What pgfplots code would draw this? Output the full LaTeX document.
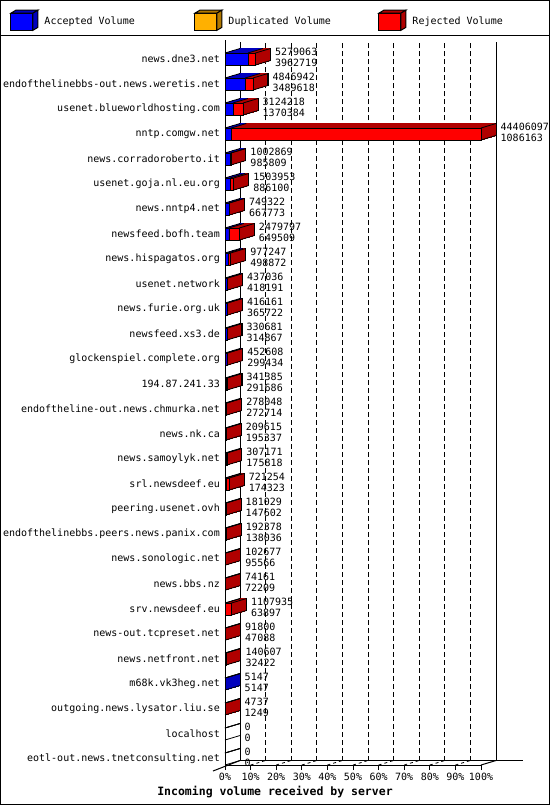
\documentclass[border=0pt]{standalone}
\usepackage{fontspec}
\setmainfont{DejaVu Sans Mono}
\setmonofont{DejaVu Sans Mono}
\usepackage{pgfplots}
\usepackage{pgfplotstable}
\pgfplotsset{compat=1.18}

\definecolor{accF}{RGB}{0,0,255}
\definecolor{accB}{RGB}{0,0,190}
\definecolor{dupF}{RGB}{255,176,0}
\definecolor{dupB}{RGB}{176,120,0}
\definecolor{rejF}{RGB}{255,0,0}
\definecolor{rejB}{RGB}{176,0,0}

% total volume, accepted volume (rejected = total - accepted)
\pgfplotstableread{
row tot acc
0 5279063 3962719
1 4846942 3489618
2 3124218 1370384
3 44406097 1086163
4 1002869 985809
5 1503953 886100
6 749322 667773
7 2479797 649509
8 977247 498872
9 437036 418191
10 416161 365722
11 330681 314867
12 452608 299434
13 341385 291686
14 278048 272714
15 209615 195337
16 307171 175818
17 721254 174323
18 181029 147602
19 192378 138036
20 102677 95566
21 74161 72209
22 1107935 63897
23 91800 47088
24 140607 32422
25 5147 5147
26 4737 1249
27 0 0
28 0 0
}\servers

\pgfplotsset{
  geom/.style={scale only axis, width=256pt, height=725pt,
    xmin=0, xmax=100, ymin=-0.76, ymax=28.24, y dir=reverse,
    clip=false, anchor=south west},
  layer/.style={geom, hide axis, xbar stacked, bar width=12pt},
}
% percent of the largest total
\def\pct{444060.97}
% blue part of a depth slice: leaves at least 1px of red on the right side
\def\bx{(\thisrow{acc}<\thisrow{tot} ? max(0,min(\thisrow{acc},\thisrow{tot}-177624))/\pct : \thisrow{acc}/\pct)}

\begin{document}
\fontsize{10}{12}\selectfont
\begin{tikzpicture}[line width=1pt, font=\fontsize{10}{12}\selectfont]

% back wall and floor
\begin{axis}[scale only axis, width=256pt, height=718.5pt, xmin=0, xmax=100, ymin=0, ymax=1,
  at={(240pt,-760.5pt)}, anchor=south west, clip=false,
  axis x line*=bottom, axis y line=none, ytick=\empty,
  x axis line style={line width=1pt, shorten >=-27pt},
  xtick={10,20,...,90}, xticklabels={}, major tick length=0pt,
  xmajorgrids, grid style={black, line width=0.8pt},
  major grid style={dash pattern=on 5pt off 3pt},
  extra x ticks={0,100}, extra x tick labels={},
  extra x tick style={grid=major, major grid style={solid, line width=1pt}}]
\addplot[draw=none] coordinates {(0,0)};
\end{axis}

% rear face of the bars
\begin{axis}[layer, at={(240pt,-760.5pt)}]
\addplot[fill=accB, draw=black, line width=1.2pt, skip coords between index={27}{29}]
  table[x expr=\bx, y=row] \servers;
\addplot[fill=rejB, draw=black, line width=1.2pt, skip coords between index={27}{29}]
  table[x expr=\thisrow{tot}/\pct-\bx, y=row] \servers;
\end{axis}

% depth of the bars, one slice per pixel
\foreach \k in {14,13,...,1} {
\begin{axis}[layer, at={({(225+\k)*1pt},{(-765+0.3*\k)*1pt})}]
\addplot[fill=accB, draw=accB, line width=1pt, skip coords between index={27}{29}]
  table[x expr=\bx, y=row] \servers;
\addplot[fill=rejB, draw=rejB, line width=1pt, skip coords between index={27}{29}]
  table[x expr=\thisrow{tot}/\pct-\bx, y=row] \servers;
\end{axis}
}

% front face, axes and labels
\begin{axis}[geom, at={(225pt,-765pt)}, xbar stacked, bar width=12pt,
  axis x line*=bottom, axis y line*=left,
  axis line style={line width=1pt},
  xtick={0,10,...,100},
  xticklabels={0\%,10\%,20\%,30\%,40\%,50\%,60\%,70\%,80\%,90\%,100\%},
  tick align=outside, major tick length=5pt,
  xtick style={black, line width=0.8pt},
  ytick={0,...,28}, ytick style={draw=none},
  yticklabels={news.dne3.net,endofthelinebbs-out.news.weretis.net,usenet.blueworldhosting.com,
    nntp.comgw.net,news.corradoroberto.it,usenet.goja.nl.eu.org,news.nntp4.net,
    newsfeed.bofh.team,news.hispagatos.org,usenet.network,news.furie.org.uk,
    newsfeed.xs3.de,glockenspiel.complete.org,194.87.241.33,
    endoftheline-out.news.chmurka.net,news.nk.ca,news.samoylyk.net,srl.newsdeef.eu,
    peering.usenet.ovh,endofthelinebbs.peers.news.panix.com,news.sonologic.net,
    news.bbs.nz,srv.newsdeef.eu,news-out.tcpreset.net,news.netfront.net,
    m68k.vk3heg.net,outgoing.news.lysator.liu.se,localhost,
    eotl-out.news.tnetconsulting.net},
  yticklabel style={inner sep=0pt},
  xticklabel style={inner sep=0pt, yshift=-3pt},
  xlabel={Incoming volume received by server},
  xlabel style={at={(axis description cs:0.1953,-0.0372)}, anchor=center,
    font=\fontsize{11.5}{13}\selectfont\bfseries}]
\addplot[fill=accF, draw=black] table[x expr=\thisrow{acc}/\pct, y=row] \servers;
\addplot[fill=rejF, draw=black] table[x expr=(\thisrow{tot}-\thisrow{acc})/\pct, y=row] \servers;
\end{axis}

% legend, edges, floor lines and values
\begin{axis}[geom, hide axis, at={(225pt,-765pt)},
  legend style={draw=none, fill=none, inner sep=0pt, outer sep=0pt,
    at={(axis description cs:-0.8379,1.0273)}, anchor=west,
    nodes={inner sep=0pt},
    /tikz/every odd column/.append style={column sep=6pt},
    /tikz/every even column/.append style={column sep=0pt}},
  legend columns=3, legend cell align=left]
\addlegendimage{legend image code/.code={
  \draw[fill=accF, line width=1pt] (0pt,-8.6pt) rectangle (22pt,8.6pt);
  \draw[fill=accB, line width=1pt] (0pt,8.6pt) -- (5pt,11.6pt) -- (27pt,11.6pt) -- (22pt,8.6pt) -- cycle;
  \draw[fill=accB, line width=1pt] (22pt,8.6pt) -- (27pt,11.6pt) -- (27pt,-5.6pt) -- (22pt,-8.6pt) -- cycle;}}
\addlegendentry{\makebox[150pt][l]{Accepted Volume}}
\addlegendimage{legend image code/.code={
  \draw[fill=dupF, line width=1pt] (0pt,-8.6pt) rectangle (22pt,8.6pt);
  \draw[fill=dupB, line width=1pt] (0pt,8.6pt) -- (5pt,11.6pt) -- (27pt,11.6pt) -- (22pt,8.6pt) -- cycle;
  \draw[fill=dupB, line width=1pt] (22pt,8.6pt) -- (27pt,11.6pt) -- (27pt,-5.6pt) -- (22pt,-8.6pt) -- cycle;}}
\addlegendentry{\makebox[150pt][l]{Duplicated Volume}}
\addlegendimage{legend image code/.code={
  \draw[fill=rejF, line width=1pt] (0pt,-8.6pt) rectangle (22pt,8.6pt);
  \draw[fill=rejB, line width=1pt] (0pt,8.6pt) -- (5pt,11.6pt) -- (27pt,11.6pt) -- (22pt,8.6pt) -- cycle;
  \draw[fill=rejB, line width=1pt] (22pt,8.6pt) -- (27pt,11.6pt) -- (27pt,-5.6pt) -- (22pt,-8.6pt) -- cycle;}}
\addlegendentry{\makebox[150pt][l]{Rejected Volume}}
\addplot[forget plot, quiver={u=5.859, v=-0.18}, black, line width=0.8pt]
  table[x expr=0, y expr=\thisrow{row}-0.24] \servers;
\addplot[forget plot, quiver={u=5.859, v=-0.18}, black, line width=0.8pt]
  table[x expr=\thisrow{tot}/\pct, y expr=\thisrow{row}-0.24] \servers;
\addplot[forget plot, quiver={u=5.859, v=-0.18}, black, line width=0.8pt]
  table[x expr=\thisrow{tot}/\pct, y expr=\thisrow{row}+0.24] \servers;
\addplot[forget plot, quiver={u=5.859, v=-0.18}, black, line width=0.8pt]
  table[x expr=\thisrow{acc}/\pct, y expr=\thisrow{row}-0.24] \servers;
\addplot[forget plot, quiver={u=5.859, v=-0.18}, black, line width=0.8pt, dash pattern=on 3pt off 3pt]
  coordinates {(10,28.24) (20,28.24) (30,28.24) (40,28.24) (50,28.24) (60,28.24) (70,28.24) (80,28.24) (90,28.24)};
\addplot[forget plot, quiver={u=5.859, v=-0.18}, black, line width=1pt] coordinates {(100,28.24)};
\addplot[forget plot, quiver={u=10.547, v=-0.42}, black, line width=1pt] coordinates {(-4.6875,28.48)};
\addplot[forget plot, draw=none, nodes near coords, point meta=explicit symbolic,
  every node near coord/.append style={anchor=west, xshift=19.5pt, inner sep=0pt}]
  table[x expr=\thisrow{tot}/\pct, y expr=\thisrow{row}-0.28, meta=tot] \servers;
\addplot[forget plot, draw=none, nodes near coords, point meta=explicit symbolic,
  every node near coord/.append style={anchor=west, xshift=19.5pt, inner sep=0pt}]
  table[x expr=\thisrow{tot}/\pct, y expr=\thisrow{row}+0.16, meta=acc] \servers;
\end{axis}

\draw[line width=1pt] (0.5pt,-0.5pt) rectangle (549.5pt,-804.5pt);
\draw[line width=1pt] (0pt,-35.5pt) -- (550pt,-35.5pt);
\pgfresetboundingbox
\path[use as bounding box] (0pt,0pt) rectangle (550pt,-805pt);
\end{tikzpicture}
\end{document}
